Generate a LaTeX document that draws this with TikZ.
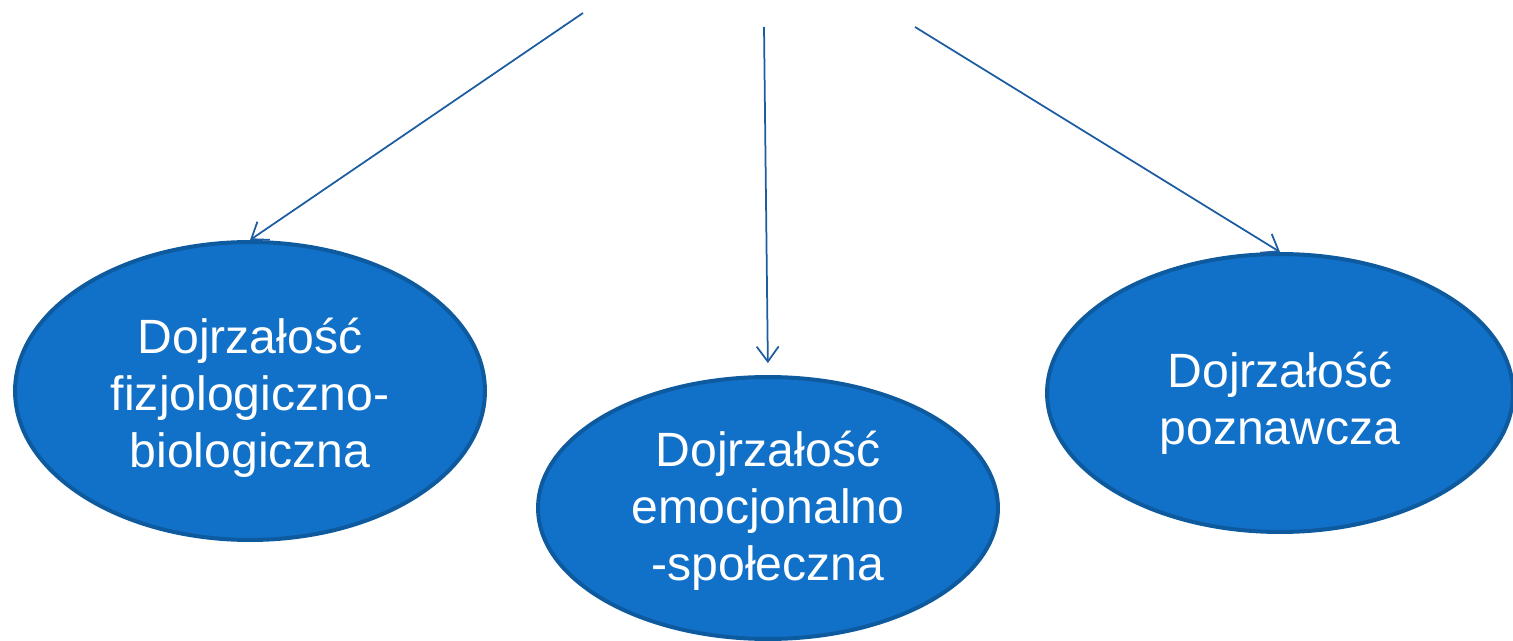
\documentclass[tikz,border=0pt]{standalone}
\usepackage{fontspec}
\setmainfont{Liberation Sans}
\usetikzlibrary{shapes.geometric,arrows.meta}
\definecolor{efill}{HTML}{1170C8}
\definecolor{eline}{HTML}{0E5A9E}
\definecolor{aline}{HTML}{1C5CA0}
\tikzset{
  blob/.style={ellipse, fill=efill, draw=eline, line width=0.08cm, inner sep=0pt},
  txt/.style={text=white, align=center, inner sep=0pt, font=\fontsize{27.4}{32.3}\selectfont},
  conn/.style={draw=aline, line width=0.035cm, -{Straight Barb[length=0.3cm,width=0.44cm,line width=0.035cm]}}
}
\begin{document}
\begin{tikzpicture}[x=0.02cm,y=-0.02cm]
\useasboundingbox (0,0) rectangle (1513,641);
\node[blob, minimum width=9.4cm, minimum height=5.96cm] (e1) at (250,391) {};
\node[blob, minimum width=9.2cm, minimum height=5.24cm] (e2) at (768,508) {};
\node[blob, minimum width=9.32cm, minimum height=5.56cm] (e3) at (1280,393) {};
\node[txt] (t1) at ([yshift=-0.14cm]e1.center) {Dojrzałość\\fizjologiczno-\\biologiczna};
\node[txt] (t2) at ([yshift=-0.06cm]e2.center) {Dojrzałość\\emocjonalno\\-społeczna};
\node[txt] (t3) at ([yshift=-0.2cm]e3.center) {Dojrzałość\\poznawcza};
\coordinate (s1) at (583,13);
\coordinate (s2) at (764,27);
\coordinate (s3) at (915,27);
\draw[conn] (s1) -- (e1.north);
\draw[conn, shorten >=0.24cm] (s2) -- (e2.north);
\draw[conn] (s3) -- (e3.north);
\end{tikzpicture}
\end{document}
